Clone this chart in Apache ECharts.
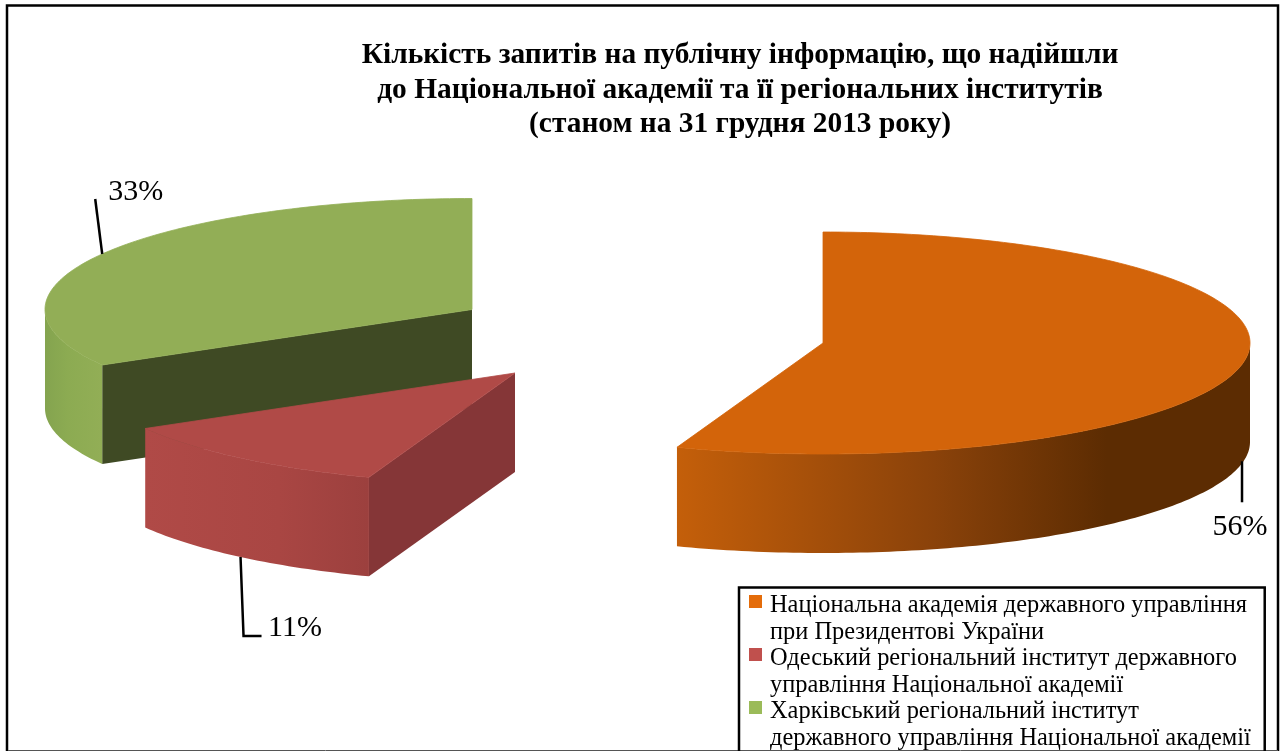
<!DOCTYPE html>
<html>
<head>
<meta charset="utf-8">
<style>
  html, body { margin: 0; padding: 0; background: #fff; overflow: hidden; }
  #chart { width: 1288px; height: 751px; }
</style>
<script src="https://cdn.jsdelivr.net/npm/echarts@6/dist/echarts.min.js"></script>
</head>
<body>
<div id="chart"></div>
<script>
// Дані діаграми
const titleLines = [
  "Кількість запитів на публічну інформацію, що надійшли",
  "до Національної академії та її регіональних інститутів",
  "(станом на 31 грудня 2013 року)"
];
const categories = [
  "Національна академія державного управління\nпри Президентові України",
  "Одеський регіональний інститут державного\nуправління Національної академії",
  "Харківський регіональний інститут\nдержавного управління Національної академії"
];
const values = [5, 1, 3];

// Геометрія та кольори секторів (окремо від даних)
const RX = 427, RY = 111, DEPTH = 99;
const FONT = '"Liberation Serif", "Times New Roman", serif';
const sliceStyles = [
  {
    center: [823, 343], legend: "#e46c0a", top: "#d3640a", wall: "#5c2c02",
    rim: [[0, "#c45f0a"], [0.45, "#8a420a"], [0.75, "#5c2c02"], [1, "#5c2c02"]],
    leader: [[-1.5, 0], [-1.5, 41]], labelAt: [-31, 66]
  },
  {
    center: [515, 373], legend: "#c0504d", top: "#b04a47", wall: "#853637",
    rim: [[0, "#b04a47"], [0.6, "#a94643"], [1, "#9c403e"]],
    leader: [[0, 0], [3, 79], [21, 79]], labelAt: [27.5, 71.5]
  },
  {
    center: [472, 309.5], legend: "#9bbb59", top: "#92ae56", wall: "#3f4a24",
    rim: [[0, "#84a44f"], [0.4, "#8cab52"], [1, "#92ae56"]],
    leader: [[0, 0], [-7, -55]], labelAt: [6, -62]
  }
];

const total = values.reduce((a, b) => a + b, 0);

function ringPoint(center, deg, dy) {
  const a = deg * Math.PI / 180;
  return [center[0] + RX * Math.sin(a), center[1] - RY * Math.cos(a) + (dy || 0)];
}

function arcPoints(center, from, to, dy) {
  const pts = [];
  const steps = Math.max(2, Math.ceil(Math.abs(to - from)));
  for (let i = 0; i <= steps; i++) {
    pts.push(ringPoint(center, from + (to - from) * i / steps, dy));
  }
  return pts;
}

function sliceChildren(index, start, end) {
  const st = sliceStyles[index];
  const c = st.center;
  const kids = [];

  // внутрішні стінки видно лише коли вони повернуті до глядача
  [start, end].forEach((edge, k) => {
    const shown = k === 0 ? (edge > 180 && edge < 360) : (edge > 0 && edge < 180);
    if (!shown) return;
    const p = ringPoint(c, edge);
    kids.push({
      type: "polygon",
      shape: { points: [c, p, [p[0], p[1] + DEPTH], [c[0], c[1] + DEPTH]] },
      style: { fill: st.wall }
    });
  });

  // зовнішній край
  const from = Math.max(start, 90), to = Math.min(end, 270);
  if (from < to) {
    const upper = arcPoints(c, to, from);
    const lower = arcPoints(c, from, to, DEPTH);
    kids.push({
      type: "polygon",
      shape: { points: upper.concat(lower) },
      style: {
        fill: new echarts.graphic.LinearGradient(0, 0, 1, 0,
          st.rim.map(s => ({ offset: s[0], color: s[1] })))
      }
    });
  }

  // верхня грань (обведення прибирає світлий шов між полігонами)
  kids.push({
    type: "polygon",
    shape: { points: [c].concat(arcPoints(c, start, end)) },
    style: { fill: st.top, stroke: st.top, lineWidth: 0.8 }
  });

  // виноска та підпис
  const mid = (start + end) / 2;
  const anchor = ringPoint(c, mid, mid > 90 && mid < 270 ? DEPTH : 0);
  kids.push({
    type: "polyline",
    shape: { points: st.leader.map(o => [anchor[0] + o[0], anchor[1] + o[1]]) },
    style: { stroke: "#000", lineWidth: 2.5, fill: null }
  });
  kids.push({
    type: "text",
    style: {
      text: Math.round(values[index] / total * 100) + "%",
      x: anchor[0] + st.labelAt[0],
      y: anchor[1] + st.labelAt[1],
      fill: "#000",
      font: "30px " + FONT,
      align: "left",
      verticalAlign: "middle"
    }
  });
  return kids;
}

let acc = 0;
const angleRanges = values.map(v => {
  const r = [acc / total * 360, (acc + v) / total * 360];
  acc += v;
  return r;
});

// порядок малювання: зелений, червоний, помаранчевий
const series = [2, 1, 0].map(i => ({
  name: categories[i],
  type: "custom",
  coordinateSystem: "none",
  silent: true,
  itemStyle: { color: sliceStyles[i].legend },
  data: [values[i]],
  renderItem: () => ({
    type: "group",
    children: sliceChildren(i, angleRanges[i][0], angleRanges[i][1])
  })
}));

const chart = echarts.init(document.getElementById("chart"));
chart.setOption({
  animation: false,
  backgroundColor: "#fff",
  title: {
    text: titleLines.join("\n"),
    left: 735,
    top: 33.5,
    textAlign: "center",
    textStyle: {
      fontFamily: FONT,
      fontSize: 29.4,
      fontWeight: "bold",
      color: "#000",
      lineHeight: 34.4
    }
  },
  legend: {
    orient: "vertical",
    left: 739,
    top: 587.5,
    height: 300,
    padding: [5, 14, 6, 10],
    itemGap: 0,
    itemWidth: 16,
    itemHeight: 53,
    icon: "path://M0 5h13v13h-13z M16 53 L16 53",
    selectedMode: false,
    borderColor: "#000",
    borderWidth: 2.5,
    data: categories,
    textStyle: {
      fontFamily: FONT,
      fontSize: 24.4,
      lineHeight: 26.5,
      color: "#000"
    }
  },
  graphic: [
    {
      type: "rect",
      silent: true,
      shape: { x: 7, y: 5.5, width: 1271, height: 760 },
      style: { fill: null, stroke: "#000", lineWidth: 2.5 }
    },
    {
      type: "line",
      silent: true,
      shape: { x1: 8, y1: 750.5, x2: 1278, y2: 750.5 },
      style: { stroke: "#555", lineWidth: 1 }
    }
  ],
  series
});

window.addEventListener("resize", () => chart.resize());
</script>
</body>
</html>
